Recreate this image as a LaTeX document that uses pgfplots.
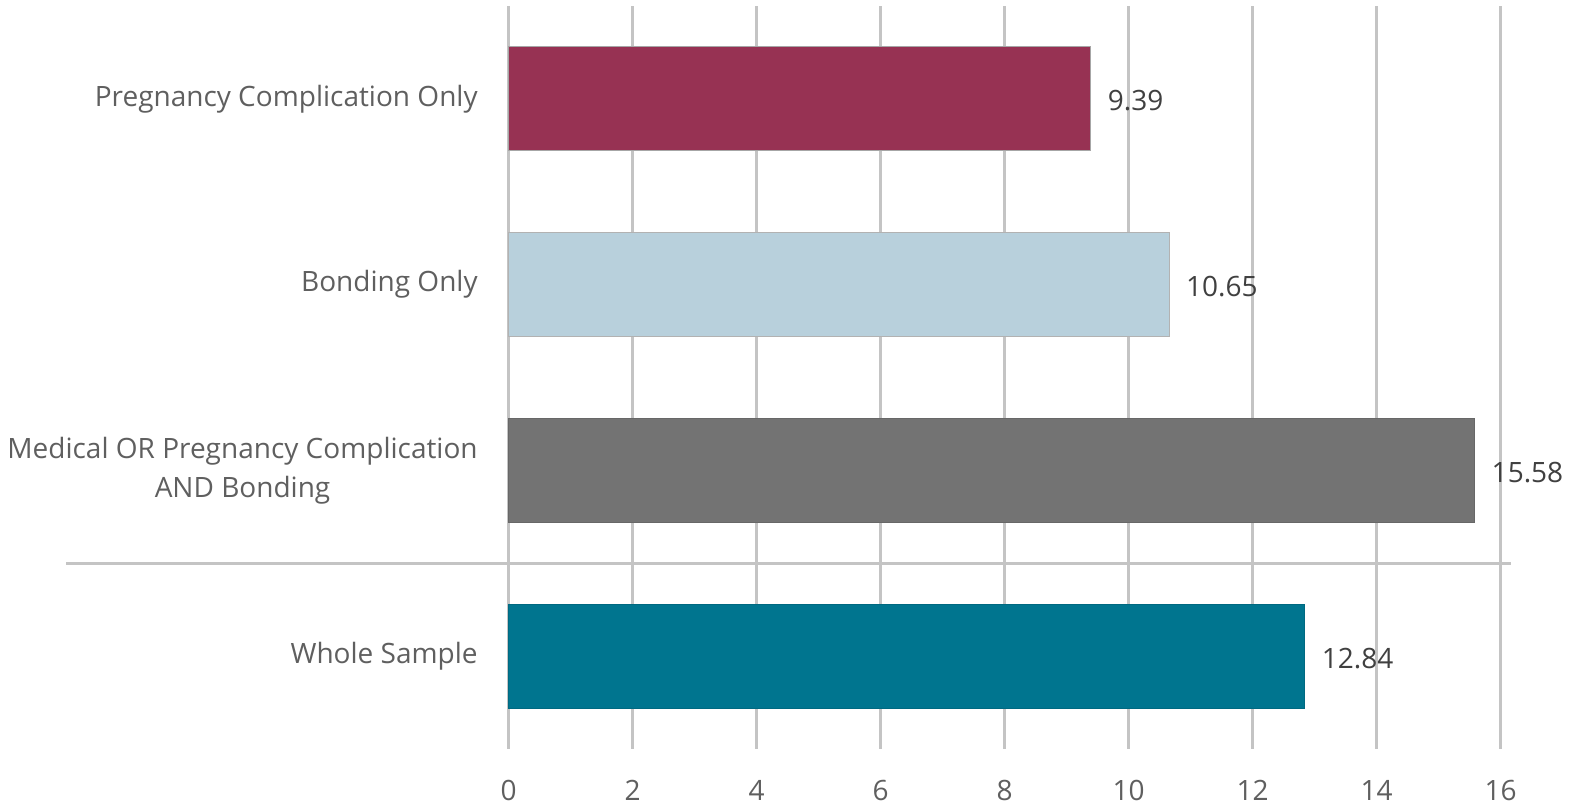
\documentclass[border=0pt]{standalone}
\usepackage{pgfplots}
\pgfplotsset{compat=1.18}
\usepackage{fontspec}
\setmainfont{Open Sans}

\definecolor{pregbar}{RGB}{151,50,83}
\definecolor{bondbar}{RGB}{184,208,220}
\definecolor{medbar}{RGB}{115,115,115}
\definecolor{wholebar}{RGB}{0,117,143}
\definecolor{labeltext}{RGB}{95,95,95}
\definecolor{valuetext}{RGB}{64,64,64}
\definecolor{gridgray}{RGB}{196,196,196}

\begin{document}
\begin{tikzpicture}
\useasboundingbox (0,0) rectangle (790pt,404pt);
\begin{axis}[
  at={(254.35pt,29.5pt)}, anchor=south west,
  scale only axis,
  width=496pt, height=371.5pt,
  xbar, bar shift=0pt, bar width=0.56,
  xmin=0, xmax=16,
  ymin=-0.5, ymax=3.5,
  xtick={0,2,...,16},
  ytick={0,1,2,3},
  yticklabels={Whole Sample,{Medical OR Pregnancy Complication\\AND Bonding},Bonding Only,Pregnancy Complication Only},
  xmajorgrids,
  grid style={gridgray, line width=1.4pt},
  axis line style={draw=none},
  tick style={draw=none},
  major tick length=0pt,
  clip=false,
  /pgf/number format/assume math mode=true,
  xticklabel style={font=\fontsize{14}{17}\selectfont, text=labeltext},
  yticklabel style={font=\fontsize{14}{19.5}\selectfont, text=labeltext, align=center},
  xticklabel shift=12pt,
  yticklabel shift=12pt,
  point meta=x,
  nodes near coords={\pgfmathprintnumber[fixed,precision=2,fixed zerofill]{\pgfplotspointmeta}},
  nodes near coords style={anchor=west, xshift=5pt, yshift=-1pt, font=\fontsize{14}{17}\selectfont, text=valuetext},
]
% line separating the overall sample from the subgroups
\draw[gridgray, line width=1.4pt] (axis cs:-7.14,0.5) -- (axis cs:16.17,0.5);
\addplot[fill=wholebar, draw=wholebar!90!black, line width=0.4pt] coordinates {(12.84,0)};
\addplot[fill=medbar, draw=medbar!90!black, line width=0.4pt] coordinates {(15.58,1)};
\addplot[fill=bondbar, draw=black!30, line width=0.4pt] coordinates {(10.65,2)};
\addplot[fill=pregbar, draw=black!35, line width=0.4pt] coordinates {(9.39,3)};
\end{axis}
\end{tikzpicture}
\end{document}
